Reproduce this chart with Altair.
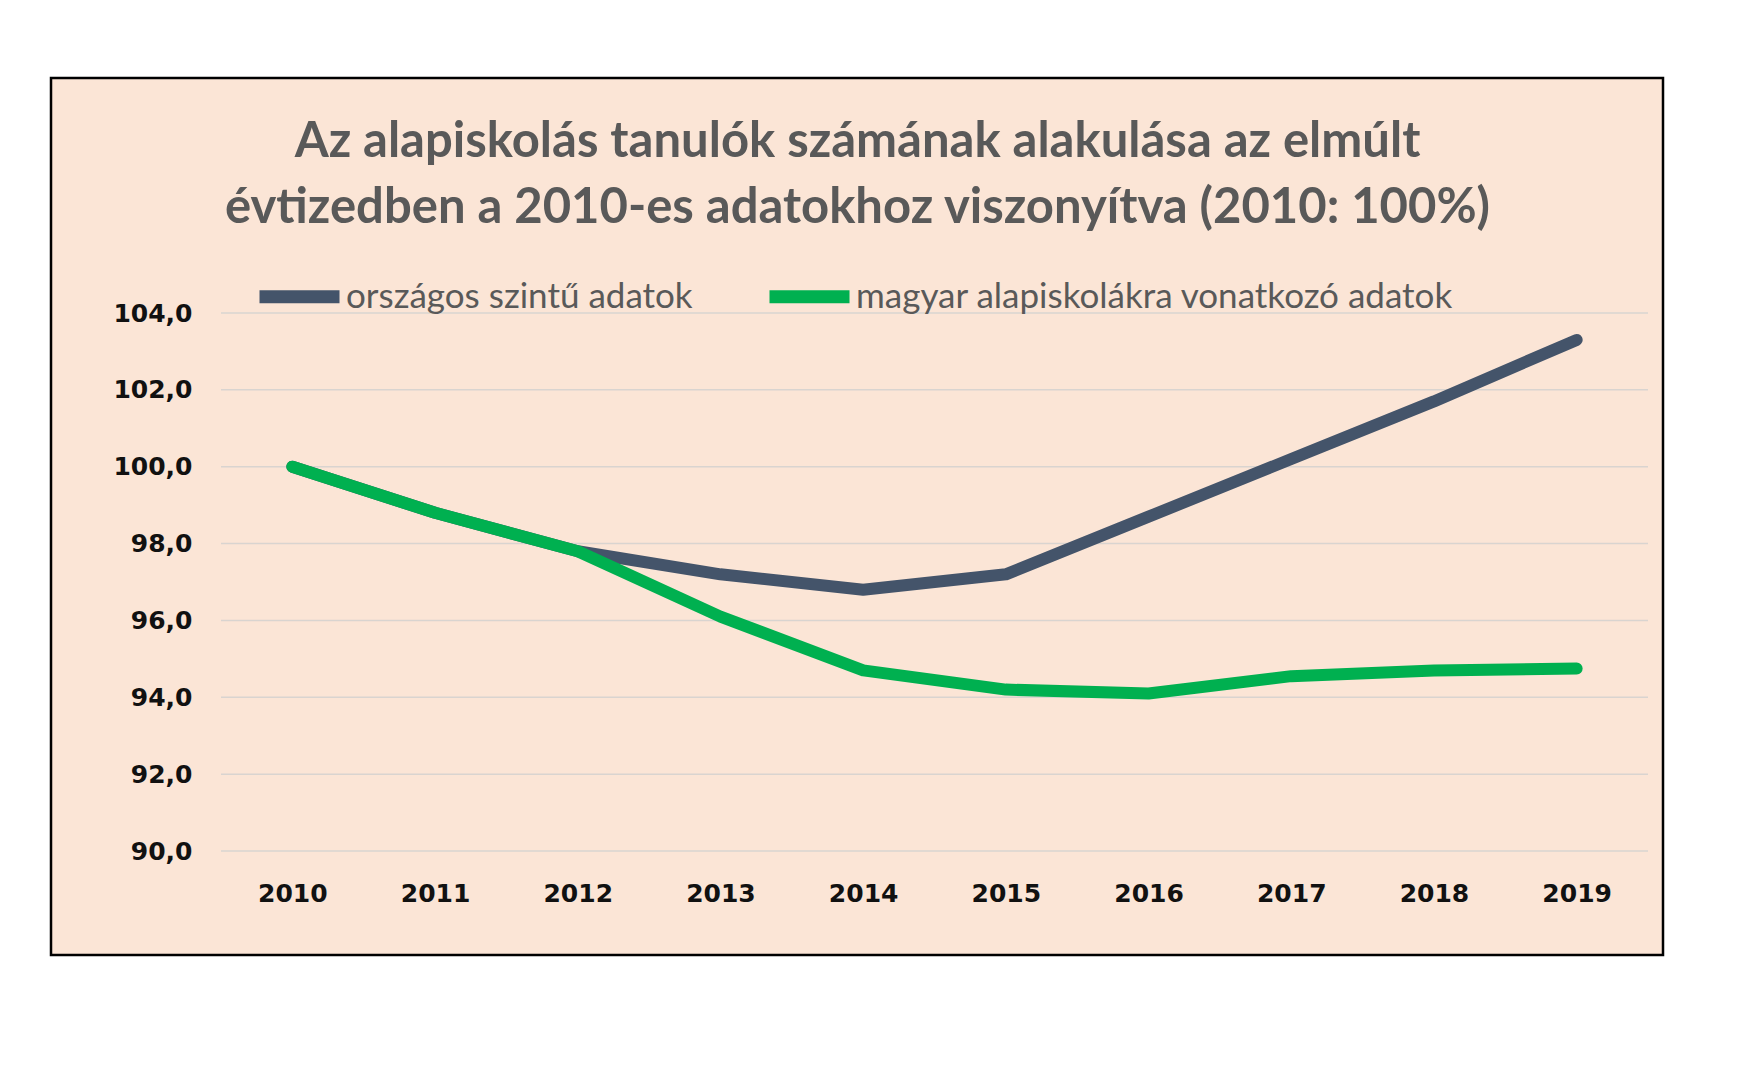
import altair as alt
import pandas as pd

years = [str(y) for y in range(2010, 2020)]
orszagos = [100.0, 98.8, 97.8, 97.2, 96.8, 97.2, 98.7, 100.2, 101.7, 103.3]
magyar = [100.0, 98.8, 97.8, 96.1, 94.7, 94.2, 94.1, 94.55, 94.7, 94.75]
series_names = ["országos szintű adatok", "magyar alapiskolákra vonatkozó adatok"]
series_colors = ["#44546A", "#00B050"]
y_ticks = [90, 92, 94, 96, 98, 100, 102, 104]
title_lines = [
    "Az alapiskolás tanulók számának alakulása az elmúlt",
    "évtizedben a 2010-es adatokhoz viszonyítva (2010: 100%)",
]

df = pd.DataFrame({
    "year": years * 2,
    "value": orszagos + magyar,
    "series": [series_names[0]] * len(years) + [series_names[1]] * len(years),
})
grid_df = pd.DataFrame({"v": y_ticks})

W, H = 1427, 538
BG = "#FBE5D6"

yscale = alt.Scale(domain=[90, 104], nice=False, zero=False)
yaxis = alt.Axis(
    title=None, values=y_ticks, domain=False, ticks=False, grid=False,
    labelExpr="replace(format(datum.value, '.1f'), '.', ',')",
    labelFont="DejaVu Sans", labelFontWeight="bold", labelFontSize=25,
    labelColor="#111111", labelPadding=29, zindex=1,
)
xaxis = alt.Axis(
    title=None, labelAngle=0, domain=False, ticks=False, grid=False,
    labelFont="DejaVu Sans", labelFontWeight="bold", labelFontSize=25,
    labelColor="#111111", labelPadding=30, zindex=1,
)

color = alt.Color(
    "series:N",
    scale=alt.Scale(domain=series_names, range=series_colors),
    legend=alt.Legend(
        title=None, orient="none", direction="horizontal",
        legendX=32, legendY=-63,
        symbolType="stroke", symbolStrokeWidth=13, symbolSize=6400,
        labelFont="Lato", labelFontSize=35, labelColor="#595959",
        labelOffset=0, columnPadding=50, labelLimit=900,
    ),
)

frame = alt.Chart(pd.DataFrame({"a": [0]})).mark_rect(
    fill=BG, stroke="#000000", strokeWidth=2.5
).encode(
    x=alt.value(-170), x2=alt.value(1442), y=alt.value(-235), y2=alt.value(642)
)

grid = alt.Chart(grid_df).mark_rule(color="#D9D4D0", strokeWidth=1.5).encode(
    y=alt.Y("v:Q", scale=yscale, axis=yaxis)
)

base = alt.Chart(df).mark_line(
    strokeWidth=12, strokeCap="round", strokeJoin="round"
).encode(
    x=alt.X("year:O", scale=alt.Scale(padding=0.5), axis=xaxis, sort=years),
    y=alt.Y("value:Q", scale=yscale, axis=yaxis),
    color=color,
)
line1 = base.transform_filter(alt.datum.series == series_names[0])
line2 = base.transform_filter(alt.datum.series == series_names[1])

chart = alt.layer(frame, grid, line1, line2).properties(
    width=W, height=H,
    title=alt.TitleParams(
        text=title_lines, font="Lato", fontSize=49, fontWeight="bold",
        color="#595959", anchor="middle", frame="group", dx=-77,
        offset=-156, lineHeight=66,
    ),
    padding={"left": 213, "top": 305, "right": 84, "bottom": 200},
    autosize=alt.AutoSizeParams(type="none"),
    background="#FFFFFF",
).configure_view(stroke=None)

chart.save("out.html", embed_options={"renderer": "svg", "actions": False})
